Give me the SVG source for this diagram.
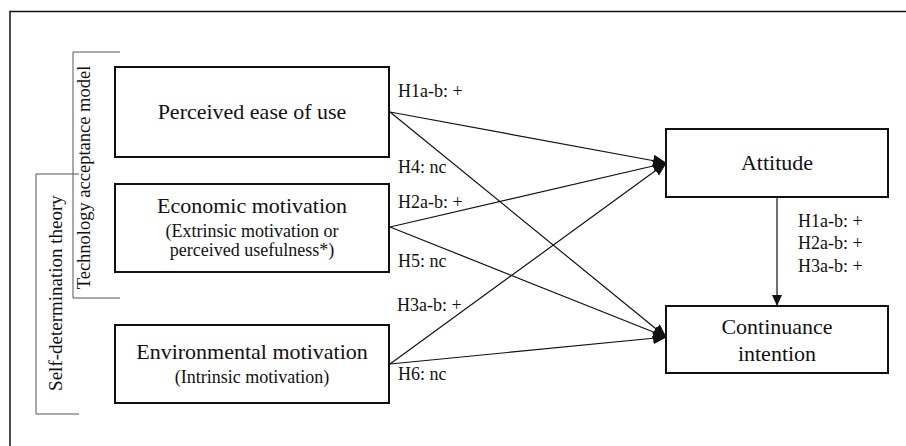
<svg xmlns="http://www.w3.org/2000/svg" width="906" height="446" viewBox="0 0 906 446">
<style>
text{font-family:"Liberation Serif","Times New Roman",serif;fill:#111}
.box{fill:#fff;stroke:#111;stroke-width:2}
.t{font-size:22px;text-anchor:middle}
.s{font-size:18px;text-anchor:middle}
.l{font-size:18px}
.br{fill:none;stroke:#555;stroke-width:1}
.c{stroke:#111;stroke-width:1.2;fill:none}
</style>
<defs>
<marker id="ah" markerUnits="userSpaceOnUse" markerWidth="14" markerHeight="12" refX="13" refY="6" orient="auto">
<path d="M0,0 L14,6 L0,12 z" fill="#111"/>
</marker>
<marker id="ah2" markerUnits="userSpaceOnUse" markerWidth="12" markerHeight="12" refX="11" refY="5" orient="auto">
<path d="M0,0 L11,5 L0,10 z" fill="#111"/>
</marker>
</defs>
<rect width="906" height="446" fill="#fff"/>
<path d="M10,446 V11.5 H906" fill="none" stroke="#111" stroke-width="1.5"/>
<g id="tam-bracket">
<path class="br" d="M120,52 H73 V298 H120"/>
<text class="l" transform="translate(90,177.5) rotate(-90)" text-anchor="middle" style="font-size:18.5px">Technology acceptance model</text>
</g>
<g id="sdt-bracket">
<path class="br" d="M79,174 H36 V414 H79"/>
<text class="l" transform="translate(62,293) rotate(-90)" text-anchor="middle" style="font-size:19px">Self-determination theory</text>
</g>
<g id="connectors">
<line class="c" x1="390" y1="112" x2="666" y2="163" marker-end="url(#ah)"/>
<line class="c" x1="390" y1="112" x2="666" y2="337" marker-end="url(#ah)"/>
<line class="c" x1="390" y1="227" x2="666" y2="163" marker-end="url(#ah)"/>
<line class="c" x1="390" y1="227" x2="666" y2="337" marker-end="url(#ah)"/>
<line class="c" x1="390" y1="364" x2="666" y2="163" marker-end="url(#ah)"/>
<line class="c" x1="390" y1="364" x2="666" y2="337" marker-end="url(#ah)"/>
<line class="c" x1="777" y1="197" x2="777" y2="306" marker-end="url(#ah2)"/>
<text class="l" x="398" y="97">H1a-b: +</text>
<text class="l" x="398" y="173">H4: nc</text>
<text class="l" x="398" y="208">H2a-b: +</text>
<text class="l" x="398" y="267">H5: nc</text>
<text class="l" x="397" y="311">H3a-b: +</text>
<text class="l" x="398" y="380">H6: nc</text>
<text class="l" x="798" y="227">H1a-b: +</text>
<text class="l" x="798" y="249">H2a-b: +</text>
<text class="l" x="798" y="272">H3a-b: +</text>
</g>
<g id="peou">
<rect class="box" x="115" y="67" width="274" height="90"/>
<text class="t" x="252" y="119">Perceived ease of use</text>
</g>
<g id="econ">
<rect class="box" x="115" y="184" width="274" height="88"/>
<text class="t" x="252" y="213">Economic motivation</text>
<text class="s" x="252" y="237">(Extrinsic motivation or</text>
<text class="s" x="252" y="256">perceived usefulness*)</text>
</g>
<g id="env">
<rect class="box" x="115" y="325" width="274" height="78"/>
<text class="t" x="252" y="359">Environmental motivation</text>
<text class="s" x="252" y="383">(Intrinsic motivation)</text>
</g>
<g id="attitude">
<rect class="box" x="666" y="129" width="222" height="68"/>
<text class="t" x="777" y="170">Attitude</text>
</g>
<g id="continuance">
<rect class="box" x="666" y="306" width="222" height="67"/>
<text class="t" x="777" y="334">Continuance</text>
<text class="t" x="777" y="361">intention</text>
</g>
</svg>
